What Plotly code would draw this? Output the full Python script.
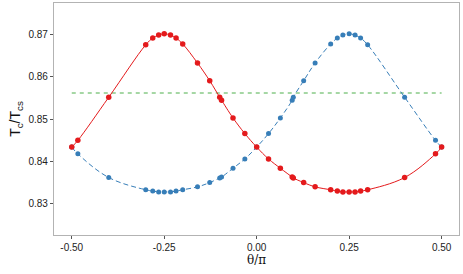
import plotly.graph_objects as go

theta = [-0.5, -0.4835, -0.4, -0.3, -0.281, -0.265, -0.25, -0.233, -0.218, -0.2,
         -0.16, -0.127, -0.1, -0.095, -0.064, -0.032, 0.0, 0.032, 0.064, 0.096,
         0.099, 0.127, 0.158, 0.2, 0.218, 0.233, 0.25, 0.266, 0.281, 0.3,
         0.4, 0.4835, 0.5]

red_vals = [0.8434, 0.8450, 0.8552, 0.8676, 0.8692, 0.8699, 0.8702, 0.8699, 0.8692, 0.8678,
            0.8633, 0.8591, 0.8552, 0.8545, 0.8503, 0.8466, 0.8434, 0.8406, 0.8384, 0.8363,
            0.8361, 0.8350, 0.8340, 0.8333, 0.8330, 0.8328, 0.8328, 0.8328, 0.8330, 0.8333,
            0.8362, 0.8418, 0.8434]

blue_vals = [0.8434, 0.8418, 0.8362, 0.8333, 0.8330, 0.8328, 0.8328, 0.8328, 0.8330, 0.8333,
             0.8340, 0.8350, 0.8361, 0.8363, 0.8384, 0.8406, 0.8434, 0.8466, 0.8503, 0.8545,
             0.8552, 0.8591, 0.8633, 0.8678, 0.8692, 0.8699, 0.8702, 0.8699, 0.8692, 0.8676,
             0.8552, 0.8450, 0.8434]

ref_x = [-0.5, 0.5]
ref_y = [0.8562, 0.8562]

x_ticks = [-0.5, -0.25, 0.0, 0.25, 0.5]
x_labels = ["-0.50", "-0.25", "0.00", "0.25", "0.50"]
y_ticks = [0.83, 0.84, 0.85, 0.86, 0.87]
y_labels = ["0.83", "0.84", "0.85", "0.86", "0.87"]

RED = "#E41A1C"
BLUE = "#377EB8"
GREEN = "#4DAF4A"

fig = go.Figure()
fig.add_trace(go.Scatter(x=ref_x, y=ref_y, mode="lines",
                         line=dict(color=GREEN, width=1, dash="4px,4px"),
                         showlegend=False))
fig.add_trace(go.Scatter(x=theta, y=blue_vals, mode="lines+markers",
                         line=dict(color=BLUE, width=1, dash="5px,3px", shape="spline", smoothing=1.1),
                         marker=dict(color=BLUE, size=5), showlegend=False))
fig.add_trace(go.Scatter(x=theta, y=red_vals, mode="lines+markers",
                         line=dict(color=RED, width=1, shape="spline", smoothing=1.1),
                         marker=dict(color=RED, size=5.5), showlegend=False))

axis_common = dict(showgrid=False, zeroline=False, showline=True, mirror=True, automargin=False,
                   linecolor="#b3b3b3", linewidth=1.2, ticks="outside", ticklen=3,
                   tickcolor="#555555", tickwidth=1,
                   tickfont=dict(family="Liberation Sans, Arial, sans-serif", size=10, color="#222222"))

fig.update_layout(
    width=463, height=274,
    margin=dict(l=54, r=4, t=3, b=39),
    paper_bgcolor="white", plot_bgcolor="white",
    xaxis=dict(range=[-0.548, 0.547], tickvals=x_ticks, ticktext=x_labels,
               title=dict(text="θ/π", font=dict(family="DejaVu Serif, serif", size=12, color="#111111"),
                          standoff=3),
               **axis_common),
    yaxis=dict(range=[0.8226, 0.8775], tickvals=y_ticks, ticktext=y_labels,
               title=dict(text="T<sub>c</sub>/T<sub>cs</sub>",
                          font=dict(family="Liberation Sans, Arial, sans-serif", size=14, color="#111111"),
                          standoff=4),
               **axis_common),
)

fig.write_html("out.html", config={"displayModeBar": False},
               post_script="document.body.style.margin='0px';document.body.style.overflow='hidden';")
